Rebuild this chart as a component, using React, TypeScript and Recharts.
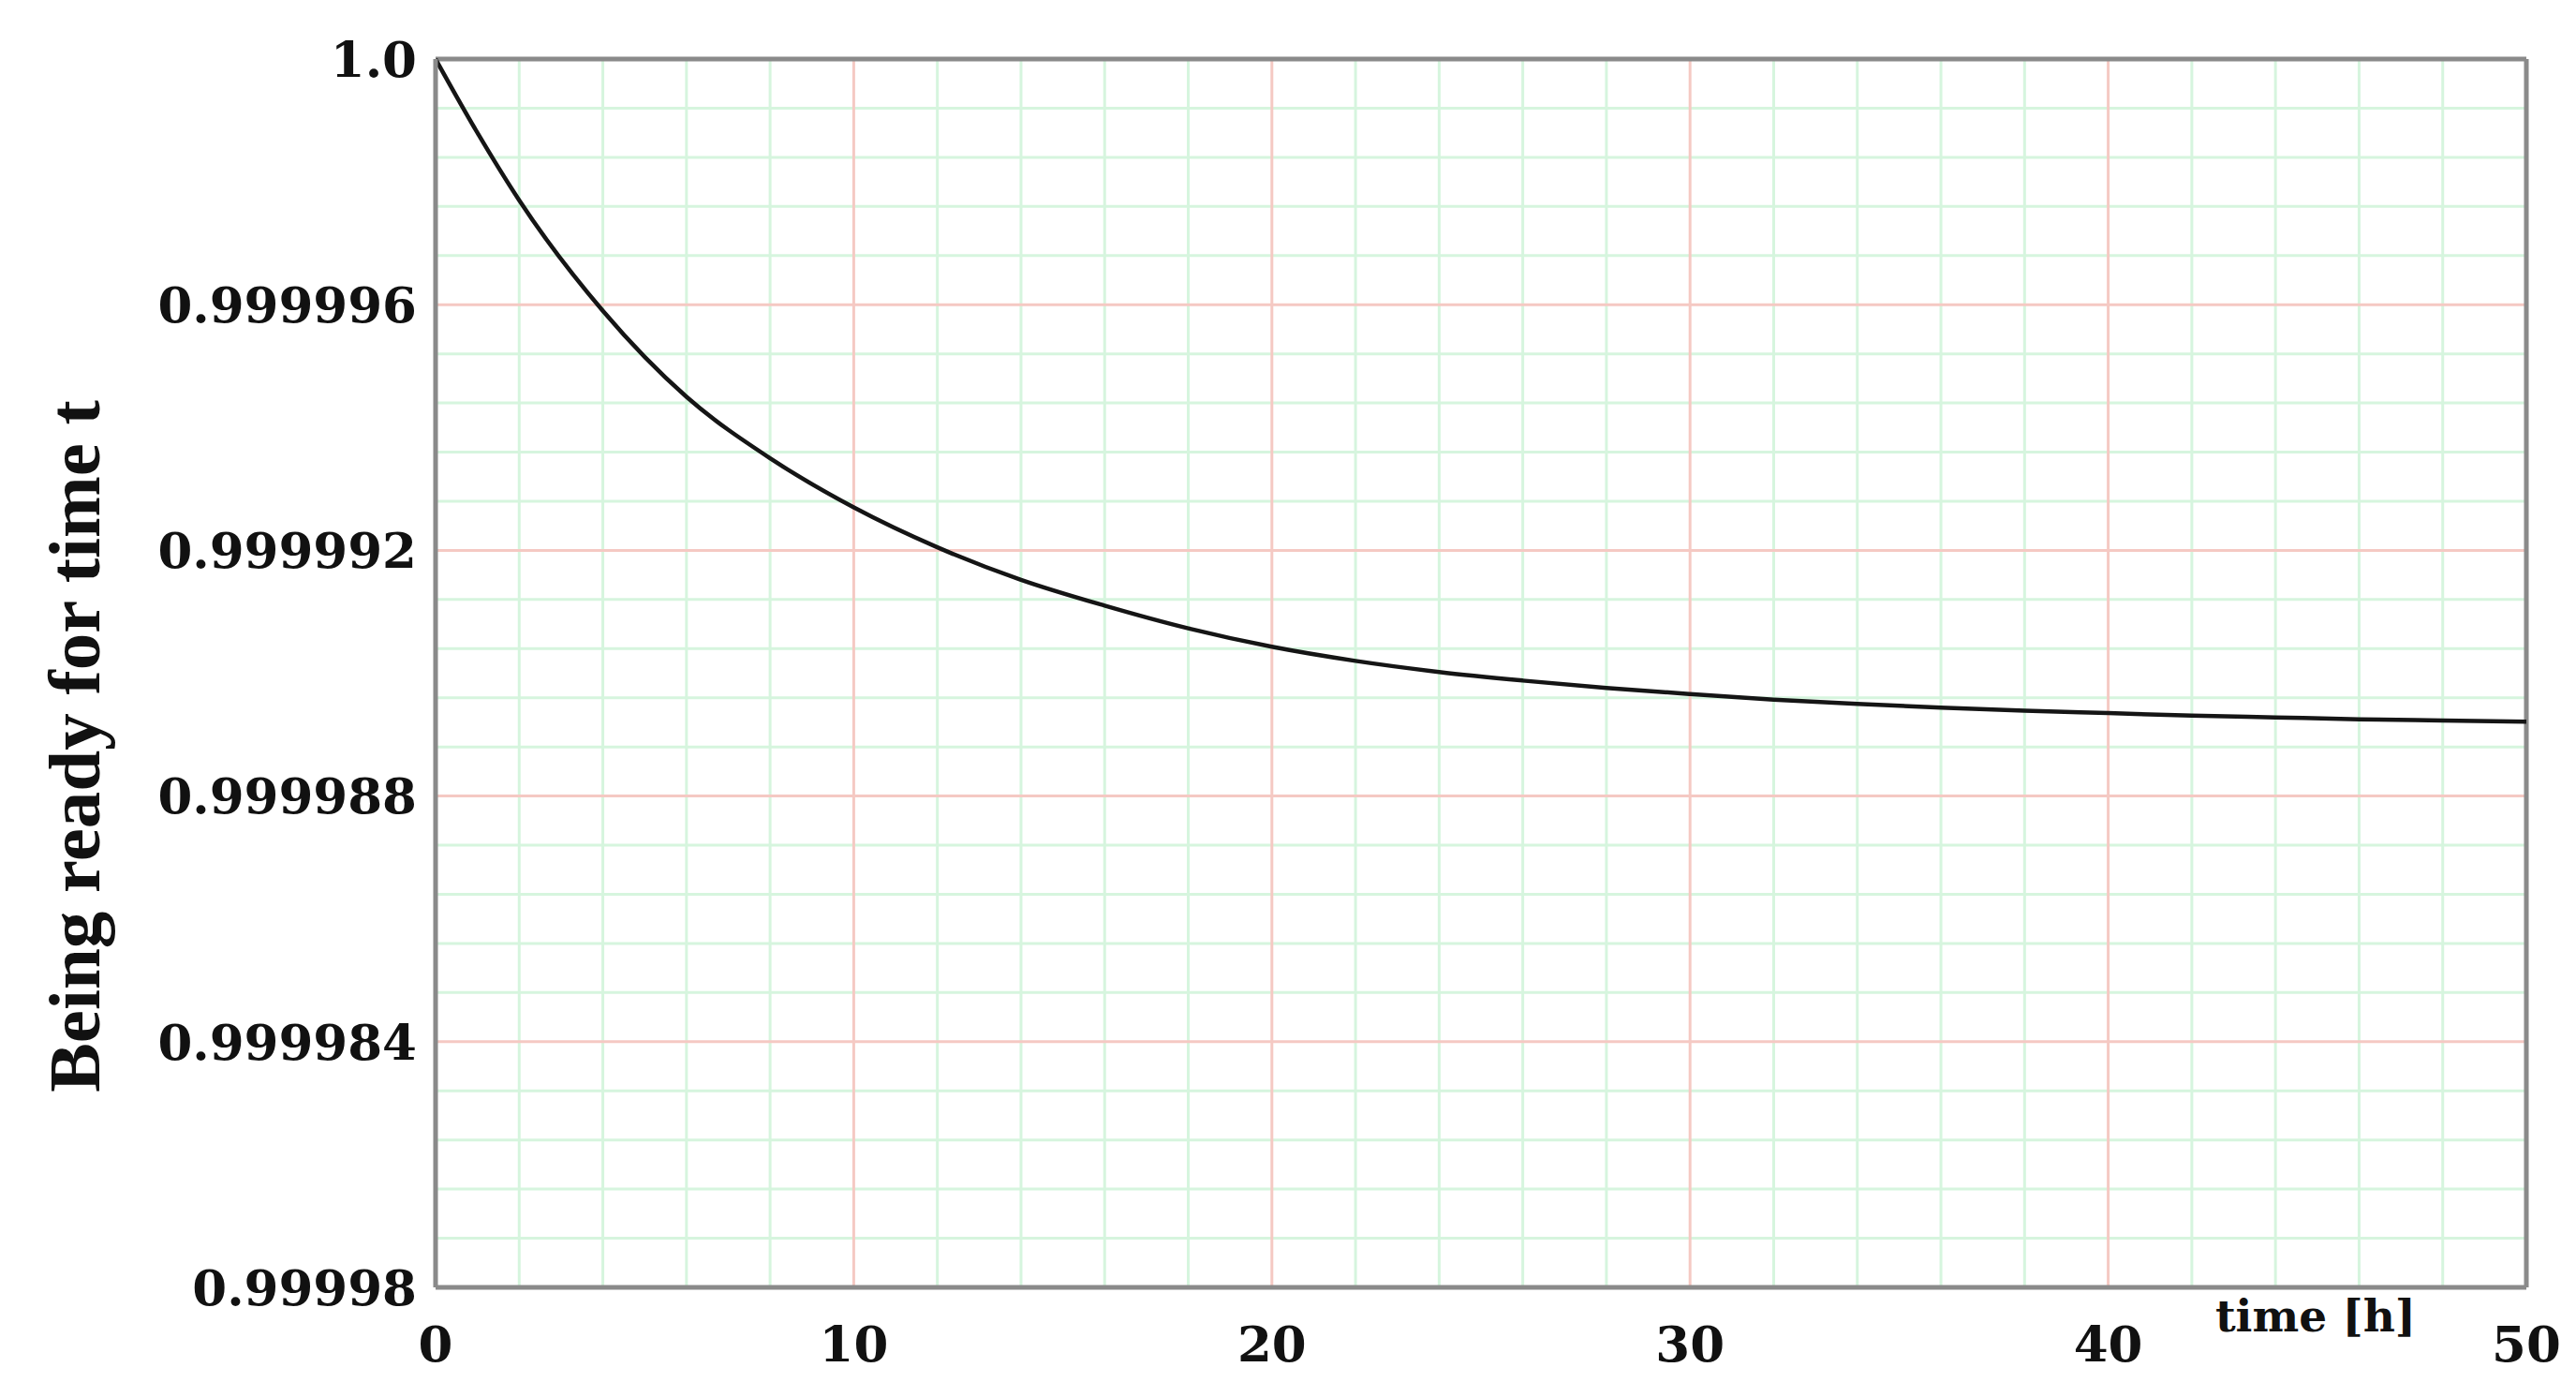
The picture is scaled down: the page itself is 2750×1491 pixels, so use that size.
import React from 'react';
import { LineChart, Line, XAxis, YAxis, ReferenceLine } from 'recharts';

// time [h] and readiness
const hours = [0, 1, 2, 4, 6, 8, 10, 12, 14, 16, 18, 20, 22, 24, 26, 28, 30, 32, 34, 36, 38, 40, 42, 44, 46, 48, 50];
const readiness = [
  1.0, 0.9999988, 0.9999977, 0.9999959, 0.9999945, 0.9999935, 0.9999927, 0.99999205,
  0.99999152, 0.9999911, 0.99999073, 0.99999043, 0.9999902, 0.99999002, 0.99998988,
  0.99998976, 0.99998966, 0.99998957, 0.9999895, 0.99998944, 0.99998939, 0.99998935,
  0.99998931, 0.99998928, 0.99998925, 0.99998923, 0.99998921,
];

const xTicks = [0, 10, 20, 30, 40, 50];
const yTicks = [0.99998, 0.999984, 0.999988, 0.999992, 0.999996, 1.0];
const yTickLabels = ['0.99998', '0.999984', '0.999988', '0.999992', '0.999996', '1.0'];

// paper grid
const xMinor = [2, 4, 6, 8, 12, 14, 16, 18, 22, 24, 26, 28, 32, 34, 36, 38, 42, 44, 46, 48];
const xMajor = [10, 20, 30, 40];
const yMinor = [
  0.9999808, 0.9999816, 0.9999824, 0.9999832, 0.9999848, 0.9999856, 0.9999864, 0.9999872,
  0.9999888, 0.9999896, 0.9999904, 0.9999912, 0.9999928, 0.9999936, 0.9999944, 0.9999952,
  0.9999968, 0.9999976, 0.9999984, 0.9999992,
];
const yMajor = [0.999984, 0.999988, 0.999992, 0.999996];

const data = hours.map((t, i) => ({ t, r: readiness[i] }));

const tickFont = { fontFamily: '"DejaVu Serif", serif', fontWeight: 700, fontSize: 53, fill: '#111' };
const minorColor = '#d6f5de';
const majorColor = '#f5c9c3';
const frameColor = '#8a8a8a';

const fmtY = (v: number) => {
  let best = 0;
  yTicks.forEach((y, i) => {
    if (Math.abs(y - v) < Math.abs(yTicks[best] - v)) best = i;
  });
  return yTickLabels[best];
};

const YTitle = (props: any) => {
  const vb = props.viewBox || {};
  const cx = vb.x + 14;
  const cy = vb.y + vb.height / 2 + 78;
  return (
    <text
      x={cx}
      y={cy}
      transform={`rotate(-90 ${cx} ${cy})`}
      textAnchor="middle"
      dominantBaseline="central"
      style={{ fontFamily: '"Liberation Serif", serif', fontWeight: 700, fontSize: 79, fill: '#111' }}
    >
      Being ready for time t
    </text>
  );
};

const XTitle = (props: any) => {
  const vb = props.viewBox || {};
  const x = vb.x + vb.width - 225;
  const y = vb.y + 30;
  return (
    <text
      x={x}
      y={y}
      textAnchor="middle"
      dominantBaseline="central"
      style={{ fontFamily: '"DejaVu Serif", serif', fontSize: 47, fill: '#111' }}
    >
      <tspan fontWeight={600}>time </tspan>
      <tspan fontWeight={700}>[h]</tspan>
    </text>
  );
};

export default function App() {
  return (
    <div style={{ position: 'absolute', left: 0, top: 0, background: '#fff' }}>
      <LineChart width={2750} height={1491} data={data} margin={{ top: 63, right: 53, bottom: 0, left: 65 }}>
        {xMinor.map((v) => (
          <ReferenceLine key={`xm${v}`} x={v} stroke={minorColor} strokeWidth={3} />
        ))}
        {yMinor.map((v) => (
          <ReferenceLine key={`ym${v}`} y={v} stroke={minorColor} strokeWidth={3} />
        ))}
        {xMajor.map((v) => (
          <ReferenceLine key={`xM${v}`} x={v} stroke={majorColor} strokeWidth={3} />
        ))}
        {yMajor.map((v) => (
          <ReferenceLine key={`yM${v}`} y={v} stroke={majorColor} strokeWidth={3} />
        ))}
        <ReferenceLine y={1.0} stroke={frameColor} strokeWidth={5} />
        <ReferenceLine x={50} stroke={frameColor} strokeWidth={5} />
        <XAxis
          dataKey="t"
          type="number"
          domain={[0, 50]}
          ticks={xTicks}
          height={117}
          tickSize={0}
          tickMargin={41}
          tick={tickFont}
          axisLine={{ stroke: frameColor, strokeWidth: 5 }}
          label={{ content: (p: any) => <XTitle {...p} /> }}
        />
        <YAxis
          type="number"
          domain={[0.99998, 1.0]}
          ticks={yTicks}
          width={400}
          tickSize={0}
          tickMargin={20}
          tick={tickFont}
          tickFormatter={fmtY}
          axisLine={{ stroke: frameColor, strokeWidth: 5 }}
          label={{ content: (p: any) => <YTitle {...p} /> }}
        />
        <Line
          type="monotone"
          dataKey="r"
          stroke="#151515"
          strokeWidth={4.5}
          dot={false}
          activeDot={false}
          isAnimationActive={false}
        />
      </LineChart>
    </div>
  );
}
